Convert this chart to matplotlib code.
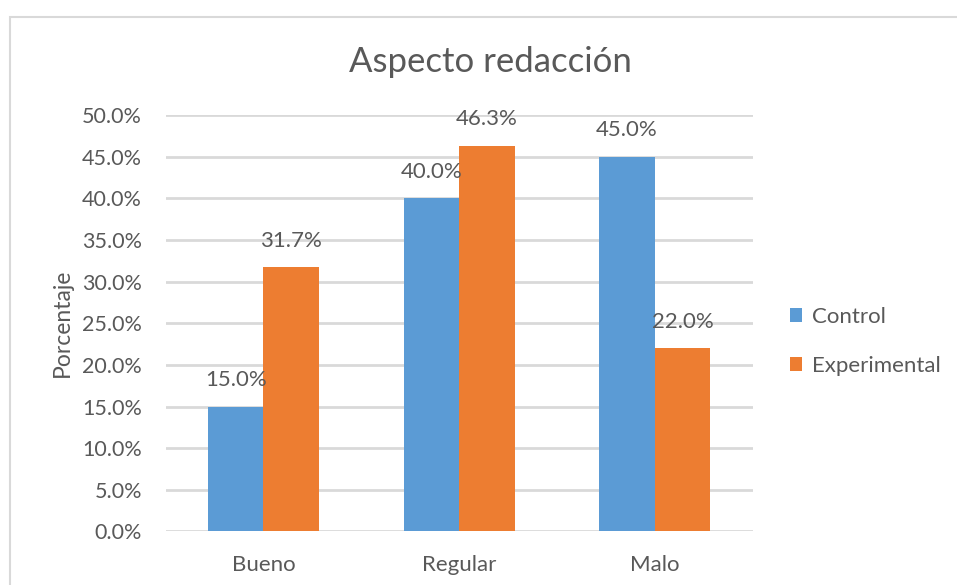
import numpy as np
import matplotlib.pyplot as plt
from matplotlib.patches import Rectangle

# --- data ---
categories = ["Bueno", "Regular", "Malo"]
control = [15.0, 40.0, 45.0]
experimental = [31.7, 46.3, 22.0]
series_names = ["Control", "Experimental"]
y_ticks = [0, 5, 10, 15, 20, 25, 30, 35, 40, 45, 50]

plt.rcParams['font.family'] = ['Lato', 'DejaVu Sans']
text_color = "#595959"
grid_color = "#D9D9D9"
blue = "#5B9BD5"
orange = "#ED7D31"

fig = plt.figure(figsize=(9.57, 5.85), dpi=100)
ax = fig.add_axes([0.1731, 0.0915, 0.6134, 0.7119])

x = np.arange(len(categories))
w = 0.284
b1 = ax.bar(x - w / 2, control, w, color=blue, label=series_names[0], zorder=2)
b2 = ax.bar(x + w / 2, experimental, w, color=orange, label=series_names[1], zorder=2)

# data labels above bars, drawn on top of everything
for bars, vals in ((b1, control), (b2, experimental)):
    for rect, v in zip(bars, vals):
        ax.annotate(f"{v:.1f}%", (rect.get_x() + rect.get_width() / 2, v),
                    xytext=(0, 12), textcoords="offset points",
                    ha="center", va="bottom", fontsize=16, color=text_color, zorder=5)

ax.set_xlim(-0.5, len(categories) - 0.5)
ax.set_ylim(0, 50)
ax.set_yticks(y_ticks)
ax.set_yticklabels([f"{t:.1f}%" for t in y_ticks])
ax.set_xticks(x)
ax.set_xticklabels(categories)
ax.tick_params(axis="both", length=0, labelcolor=text_color)
ax.tick_params(axis="y", pad=17, labelsize=15.5)
ax.tick_params(axis="x", pad=17, labelsize=16)
ax.yaxis.grid(True, color=grid_color, linewidth=2, zorder=0)
ax.set_axisbelow(True)
for s in ax.spines.values():
    s.set_visible(False)

fig.text(0.512, 1 - 62 / 585, "Aspecto redacción", ha="center", va="center",
         fontsize=25, color=text_color)
fig.text(62 / 957, 0.448, "Porcentaje", ha="center", va="center",
         rotation=90, fontsize=16.5, color=text_color)

leg = ax.legend(loc="upper left", bbox_to_anchor=(790 / 957, 1 - 307 / 585),
                bbox_transform=fig.transFigure, frameon=False, fontsize=16,
                handlelength=0.55, handleheight=0.55, handletextpad=0.45,
                labelspacing=1.3, borderaxespad=0, borderpad=0)
for t in leg.get_texts():
    t.set_color(text_color)

# chart border (cropped at right and bottom in the reference)
fig.patches.append(Rectangle((9.5 / 957, -0.1), 1.2, 1 - 16.5 / 585 + 0.1,
                             transform=fig.transFigure, fill=False,
                             edgecolor=grid_color, linewidth=1.5))

fig.savefig("out.png", dpi=100)
